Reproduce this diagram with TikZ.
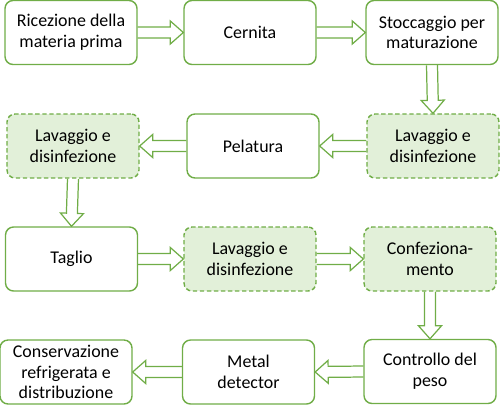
\documentclass[tikz,border=0pt]{standalone}
\usepackage{fontspec}
\setmainfont{Carlito}
\usetikzlibrary{calc}
\definecolor{grn}{HTML}{70AD47}
\definecolor{grnfill}{HTML}{E2F0D9}
\tikzset{
  stepbox/.style={draw=grn,line width=0.8pt,rounded corners=0.16cm,fill=white,
    minimum width=2.64cm,minimum height=1.28cm,align=center,inner sep=1pt,
    font=\fontsize{10.2}{11.8}\selectfont},
  washbox/.style={stepbox,fill=grnfill,dash pattern=on 2.5pt off 1.5pt},
  flowline/.style={draw=grn,line width=0.7pt,line join=miter}
}
% hollow block arrow from one anchor to another
\newcommand{\flowarrow}[2]{%
  \coordinate (fs) at (#1); \coordinate (fe) at (#2);
  \coordinate (fh) at ($(fe)!0.26cm!(fs)$);
  \draw[flowline] ($(fs)!0.11cm!90:(fe)$) -- ($(fh)!0.11cm!-90:(fs)$)
    -- ($(fh)!0.23cm!-90:(fs)$) -- (fe) -- ($(fh)!0.23cm!90:(fs)$)
    -- ($(fh)!0.11cm!90:(fs)$) -- ($(fs)!0.11cm!-90:(fe)$);
}

\begin{document}
\begin{tikzpicture}[x=0.02cm,y=-0.02cm]
\useasboundingbox (0,0) rectangle (500,416);
\node[stepbox] (ricez) at (71,32.5) {Ricezione della\\materia prima};
\node[stepbox] (cernita) at (250,32.5) {Cernita};
\node[stepbox] (stocc) at (432,32.5) {Stoccaggio per\\maturazione};
\node[washbox] (lavA) at (433,146) {Lavaggio e\\disinfezione};
\node[stepbox] (pelat) at (253,146) {Pelatura};
\node[washbox] (lavB) at (73,146) {Lavaggio e\\disinfezione};
\node[stepbox] (taglio) at (71.5,259) {Taglio};
\node[washbox] (lavC) at (250,259) {Lavaggio e\\disinfezione};
\node[washbox] (confez) at (430,259) {Confeziona-\\mento};
\node[stepbox] (peso) at (430,371.5) {Controllo del\\peso};
\node[stepbox] (metal) at (248.5,372) {Metal\\detector};
\node[stepbox] (conserv) at (66,372) {Conservazione\\refrigerata e\\distribuzione};

\flowarrow{ricez.east}{cernita.west}
\flowarrow{cernita.east}{stocc.west}
\flowarrow{stocc.south}{lavA.north}
\flowarrow{lavA.west}{pelat.east}
\flowarrow{pelat.west}{lavB.east}
\flowarrow{lavB.south}{taglio.north}
\flowarrow{taglio.east}{lavC.west}
\flowarrow{lavC.east}{confez.west}
\flowarrow{confez.south}{peso.north}
\flowarrow{peso.west}{metal.east}
\flowarrow{metal.west}{conserv.east}
\end{tikzpicture}
\end{document}
